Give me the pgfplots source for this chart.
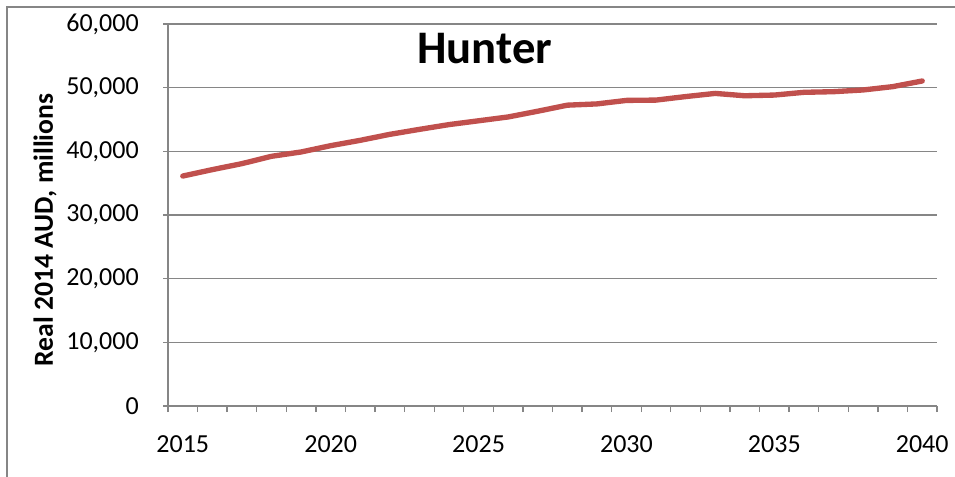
\documentclass[border=0pt]{standalone}
\usepackage{fontspec}
\setmainfont{Carlito}
\usepackage{pgfplots}
\pgfplotsset{compat=1.18}
\definecolor{excelred}{RGB}{192,80,77}
\definecolor{gridgray}{RGB}{134,134,134}

\begin{document}
\begin{tikzpicture}
\path[use as bounding box] (-126pt,-52.5pt) rectangle (590.25pt,304.5pt);
\begin{axis}[
    width=576.75pt, height=286.5pt, scale only axis,
    xmin=2014.5, xmax=2040.5,
    ymin=0, ymax=60000,
    axis x line*=bottom, axis y line*=left,
    axis line style={gridgray, line width=1pt},
    xtick={2015,2020,...,2040},
    minor xtick={2014.5,2015.5,...,2040.5},
    ytick={0,10000,...,60000},
    ymajorgrids,
    major grid style={gridgray, line width=1pt},
    tick align=outside,
    tick style={gridgray, line width=1pt},
    major x tick style={draw=none},
    major tick length=3.75pt,
    minor tick length=4.5pt,
    scaled y ticks=false,
    /pgf/number format/.cd, 1000 sep={,}, assume math mode=true,
    /pgfplots/.cd,
    xticklabel={\pgfmathprintnumber[1000 sep={}]{\tick}},
    ticklabel style={font=\fontsize{19.5}{22}\selectfont, black},
    xticklabel style={inner sep=0pt, yshift=-18.5pt},
    yticklabel style={inner sep=0pt, xshift=-18pt},
    ylabel={\textbf{Real 2014 AUD, millions}},
    ylabel style={font=\fontsize{20.7}{23}\selectfont, at={(axis description cs:-0.16,0.4607)}, anchor=center},
    title={\textbf{Hunter}},
    title style={font=\fontsize{35}{40}\selectfont, at={(axis description cs:0.412,0.875)}, anchor=base},
]
\addplot[excelred, line width=4pt, line join=round, line cap=round] coordinates {
(2015,36120) (2016,37130) (2017,38070) (2018,39220) (2019,39900)
(2020,40890) (2021,41730) (2022,42670) (2023,43450) (2024,44200)
(2025,44800) (2026,45400) (2027,46300) (2028,47250) (2029,47450)
(2030,48000) (2031,48050) (2032,48600) (2033,49100) (2034,48730)
(2035,48840) (2036,49270) (2037,49370) (2038,49640) (2039,50160)
(2040,51050)
};
\end{axis}
\begin{scope}
\clip (-126pt,-52.5pt) rectangle (590.25pt,304.5pt);
\draw[gridgray, line width=1.1pt] (-120.75pt,-80pt) rectangle (620pt,299.25pt);
\end{scope}
\end{tikzpicture}
\end{document}
